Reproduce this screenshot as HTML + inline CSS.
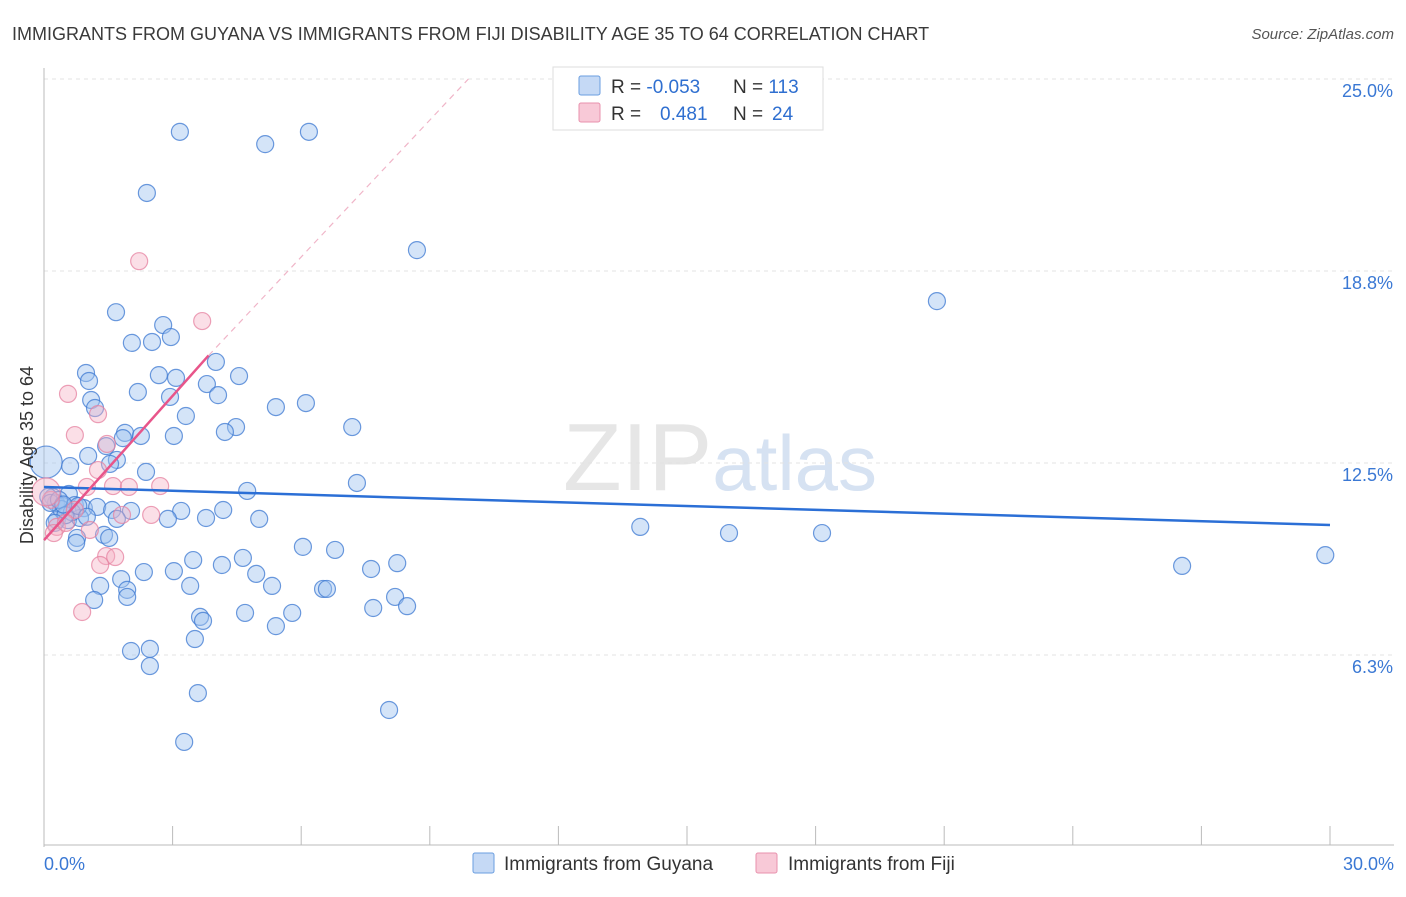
<!DOCTYPE html>
<html><head><meta charset="utf-8"><style>
body{margin:0;background:#fff;font-family:"Liberation Sans",sans-serif;}
svg text{font-family:"Liberation Sans",sans-serif;}
</style></head><body>
<svg id="chart" width="1406" height="892">
<text x="12" y="40" font-size="18" fill="#3a3a3a">IMMIGRANTS FROM GUYANA VS IMMIGRANTS FROM FIJI DISABILITY AGE 35 TO 64 CORRELATION CHART</text>
<text x="1394" y="39" font-size="15" fill="#555" text-anchor="end" font-style="italic">Source: ZipAtlas.com</text>
<text x="720" y="490" font-size="96" fill="#e6e6e6" text-anchor="middle" font-family="Liberation Serif">ZIP<tspan font-family="Liberation Sans" font-size="78" fill="#d6e2f2">atlas</tspan></text>
<g id="grid"></g>
<g id="axes"></g>
<g id="points"></g>
<g id="trends"></g>
<text transform="translate(33,455) rotate(-90)" font-size="18" fill="#333" text-anchor="middle">Disability Age 35 to 64</text>
<g>
<rect x="553" y="67" width="270" height="63" fill="#fff" stroke="#ddd"/>
<rect x="579" y="76" width="21" height="19" fill="#c5d9f5" stroke="#6a9ee0" rx="2"/>
<rect x="579" y="103" width="21" height="19" fill="#f8c9d7" stroke="#e891ad" rx="2"/>
<text x="611" y="93" font-size="19" fill="#333">R = <tspan fill="#2f6fd0">-0.053</tspan><tspan x="733">N = </tspan><tspan fill="#2f6fd0">113</tspan></text>
<text x="611" y="120" font-size="19" fill="#333">R = <tspan x="660" fill="#2f6fd0">0.481</tspan><tspan x="733">N = </tspan><tspan x="772" fill="#2f6fd0">24</tspan></text>
</g>
<g>
<rect x="473" y="853" width="21" height="20" fill="#c5d9f5" stroke="#6a9ee0" rx="2"/>
<text x="504" y="870" font-size="19" fill="#333">Immigrants from Guyana</text>
<rect x="756" y="853" width="21" height="20" fill="#f8c9d7" stroke="#e891ad" rx="2"/>
<text x="788" y="870" font-size="19" fill="#333">Immigrants from Fiji</text>
</g>
</svg>
<script>
const yTicks=[6.25,12.5,18.75,25];
const yTickLabels=["6.3%","12.5%","18.8%","25.0%"];
const xTickLabels=["0.0%","30.0%"];
const guyanaX=[3.17,5.16,6.18,2.40,8.70,20.83,1.68,2.78,2.96,2.05,2.52,4.01,0.98,2.68,4.55,1.05,3.08,3.80,2.19,2.94,4.06,1.10,1.19,6.11,5.41,3.31,7.19,4.48,4.22,1.89,2.26,1.84,3.03,1.45,1.03,1.70,0.61,1.54,2.38,7.30,4.74,0.21,0.58,0.28,0.44,0.72,0.93,1.24,1.59,3.20,4.18,2.03,0.30,0.56,0.84,1.70,2.89,3.78,5.02,13.91,15.98,18.15,1.40,0.77,1.52,0.75,6.04,6.79,4.64,3.48,4.15,8.24,7.63,2.33,3.03,4.95,26.55,29.89,1.80,1.31,3.41,5.32,1.94,6.51,6.60,8.19,1.94,1.17,8.47,7.68,4.69,5.79,3.64,3.71,5.41,3.52,2.03,2.47,2.47,3.59,8.05,3.27,0.05,0.10,0.40,0.65,0.15,0.35,0.50,0.80,1.00,0.25,0.45];
const guyanaY=[23.28,22.88,23.28,21.29,19.43,17.77,17.41,16.99,16.60,16.41,16.44,15.79,15.43,15.36,15.33,15.17,15.27,15.07,14.81,14.65,14.71,14.55,14.29,14.45,14.32,14.03,13.67,13.67,13.51,13.48,13.38,13.31,13.38,13.05,12.73,12.60,12.40,12.47,12.21,11.85,11.59,11.39,11.49,11.20,11.10,11.13,11.03,11.07,10.97,10.94,10.97,10.94,10.64,10.64,10.71,10.68,10.68,10.71,10.68,10.42,10.22,10.22,10.16,10.06,10.06,9.90,9.77,9.67,9.41,9.34,9.18,9.24,9.05,8.95,8.98,8.89,9.15,9.50,8.72,8.50,8.50,8.50,8.37,8.40,8.40,8.14,8.14,8.04,7.84,7.78,7.62,7.62,7.49,7.36,7.19,6.77,6.38,6.45,5.89,5.01,4.46,3.42,12.53,11.40,11.00,10.90,11.20,11.30,10.80,11.10,10.75,10.55,11.15];
const fijiX=[2.22,3.69,0.56,1.26,0.72,1.47,1.26,1.00,1.61,1.98,0.16,0.72,1.82,2.50,0.30,1.07,0.23,1.45,1.66,1.31,0.89,0.05,0.51,2.71];
const fijiY=[19.07,17.12,14.75,14.09,13.41,13.12,12.27,11.72,11.75,11.72,11.30,10.97,10.81,10.81,10.42,10.32,10.22,9.47,9.44,9.18,7.65,11.56,10.55,11.75];
const guyanaTrend=[[0,11.72],[30,10.48]];
const fijiTrend=[[0,9.99],[3.84,16.0]];
const fijiDash=[[3.84,16.0],[9.9,25]];

const NS="http://www.w3.org/2000/svg";
const X0=44,X1=1330,Y0=847,Y25=79;
const sx=v=>X0+(v/30)*(X1-X0);
const sy=v=>Y0-(v/25)*(Y0-Y25);
function mk(parent,tag,attrs){const e=document.createElementNS(NS,tag);for(const k in attrs)e.setAttribute(k,attrs[k]);document.getElementById(parent).appendChild(e);return e;}

yTicks.forEach((t,i)=>{
  const l=mk('grid','line',{x1:X0,x2:1394,y1:sy(t),y2:sy(t),stroke:'#e3e3e3','stroke-dasharray':'4,4'});
  
  
  const tx=mk('axes','text',{x:1393,y:sy(t)+18,'font-size':18,fill:'#3a78d4','text-anchor':'end'});
  tx.textContent=yTickLabels[i];
  
  
});
let ax=mk('axes','line',{x1:X0,x2:X0,y1:68,y2:Y0,stroke:'#bbb'});


ax=mk('axes','line',{x1:X0,x2:1394,y1:Y0-2,y2:Y0-2,stroke:'#bbb'});


for(let i=1;i<=10;i++){
  const x=sx(i*3);
  const tk=mk('axes','line',{x1:x,x2:x,y1:826,y2:845,stroke:'#bbb'});
  
  
}
[[X0,'start'],[1394,'end']].forEach((p,i)=>{
  const tx=mk('axes','text',{x:p[0],y:870,'font-size':18,fill:'#3a78d4','text-anchor':p[1]});
  tx.textContent=xTickLabels[i];
  
  
});

guyanaX.forEach((v,i)=>{
  const big=(v<0.1&&guyanaY[i]>12);
  const c=mk('points','circle',{cx:sx(v),cy:sy(guyanaY[i]),r:big?16:8.5,fill:'rgba(160,195,240,0.45)',stroke:'rgba(60,120,210,0.75)','stroke-width':1.2});
  
  
});
fijiX.forEach((v,i)=>{
  const big=(v<0.1);
  const c=mk('points','circle',{cx:sx(v),cy:sy(fijiY[i]),r:big?14:8.5,fill:'rgba(245,175,195,0.4)',stroke:'rgba(230,130,160,0.75)','stroke-width':1.2});
  
  
});
let tl=mk('trends','line',{x1:sx(guyanaTrend[0][0]),y1:sy(guyanaTrend[0][1]),x2:sx(guyanaTrend[1][0]),y2:sy(guyanaTrend[1][1]),stroke:'#2b6fd6','stroke-width':2.5});


tl=mk('trends','line',{x1:sx(fijiTrend[0][0]),y1:sy(fijiTrend[0][1]),x2:sx(fijiTrend[1][0]),y2:sy(fijiTrend[1][1]),stroke:'#e8558a','stroke-width':2.5});


tl=mk('trends','line',{x1:sx(fijiDash[0][0]),y1:sy(fijiDash[0][1]),x2:sx(fijiDash[1][0]),y2:sy(fijiDash[1][1]),stroke:'#f0b5c8','stroke-width':1.2,'stroke-dasharray':'6,5'});


</script>
</body></html>
